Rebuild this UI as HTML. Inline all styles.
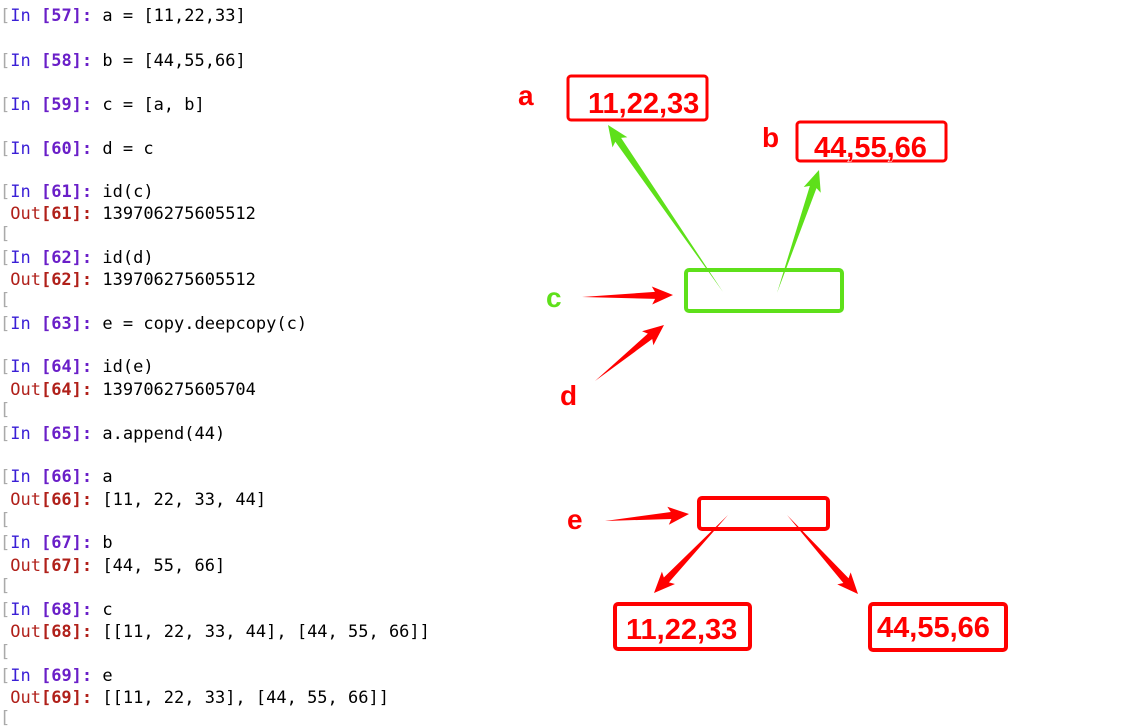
<!DOCTYPE html>
<html><head><meta charset="utf-8">
<style>
body{margin:0;width:1138px;height:724px;background:#fff;overflow:hidden;position:relative;font-family:"DejaVu Sans Mono","Liberation Mono",monospace;}
.l{position:absolute;left:0;font-size:17px;line-height:20px;white-space:pre;color:#000;}
.in{color:#3a1fd6}.inn{color:#6a1fc8;font-weight:bold}
.out{color:#b0201a}.outn{color:#b0201a;font-weight:bold}
.br{color:#aaa;font-weight:normal}
svg{position:absolute;left:0;top:0}
.big{font-family:"Liberation Sans",sans-serif;font-weight:bold;fill:#f00;stroke:#fff;stroke-width:1px;paint-order:stroke}
</style></head><body>
<div id="code"></div>
<svg width="1138" height="724">
<g id="g"></g>
</svg>
<script>
const lines=[
[15,'in','57','a = [11,22,33]'],
[60,'in','58','b = [44,55,66]'],
[104,'in','59','c = [a, b]'],
[148,'in','60','d = c'],
[191,'in','61','id(c)'],
[213,'out','61','139706275605512'],
[257,'in','62','id(d)'],
[279,'out','62','139706275605512'],
[323,'in','63','e = copy.deepcopy(c)'],
[366,'in','64','id(e)'],
[389,'out','64','139706275605704'],
[433,'in','65','a.append(44)'],
[476,'in','66','a'],
[499,'out','66','[11, 22, 33, 44]'],
[542,'in','67','b'],
[565,'out','67','[44, 55, 66]'],
[609,'in','68','c'],
[631,'out','68','[[11, 22, 33, 44], [44, 55, 66]]'],
[675,'in','69','e'],
[697,'out','69','[[11, 22, 33], [44, 55, 66]]']];
const code=document.getElementById('code');
lines.forEach(r=>{
 const d=document.createElement('div');d.className='l';d.style.top=(r[0]-9)+'px';
 
 
 if(r[1]=='in') d.innerHTML='<span class="br">[</span><span class="in">In </span><span class="inn">['+r[2]+']:</span> '+r[3];
 else d.innerHTML='<span class="out"> Out</span><span class="outn">['+r[2]+']:</span> '+r[3];
 code.appendChild(d);
 if(r[1]=='out'){const b=document.createElement('div');b.className='l br';b.style.top=(r[0]+11)+'px';b.textContent='[';
 
 
 code.appendChild(b);}
});
const NS='http://www.w3.org/2000/svg',g=document.getElementById('g');
function el(t,a,name){const e=document.createElementNS(NS,t);for(const k in a)e.setAttribute(k,a[k]);
 
 
 g.appendChild(e);return e;}
const boxes=[[568,76,139,44,'#f00',3,'box-a'],[797,122,149,39,'#f00',3,'box-b'],[686,270,156,41,'#5ee01a',4,'box-c'],[699,498,129,31,'#f00',4,'box-e'],[615,604,135,45,'#f00',4,'box-e0'],[870,604,136,46,'#f00',4,'box-e1']];
boxes.forEach(b=>el('rect',{x:b[0],y:b[1],width:b[2],height:b[3],rx:3,fill:'none',stroke:b[4],'stroke-width':b[5]},b[6]));
const arrows=[[723,292,608,125,'#5ee01a','arrow-c-to-a'],[777,293,819,170,'#5ee01a','arrow-c-to-b'],[582,297,673,295,'#f00','arrow-c'],[595,381,664,325,'#f00','arrow-d'],[605,521,689,514,'#f00','arrow-e'],[728,515,654,593,'#f00','arrow-e-to-e0'],[787,515,858,594,'#f00','arrow-e-to-e1']];
arrows.forEach(a=>{
 const [x1,y1,x2,y2,c,n]=a;const dx=x2-x1,dy=y2-y1,L=Math.hypot(dx,dy),ux=dx/L,uy=dy/L,px=-uy,py=ux;
 const h=18,w=9,bx=x2-ux*h,by=y2-uy*h,sw=3.5;
 const pts=[[x1,y1],[bx+px*sw,by+py*sw],[bx+px*w-ux*3,by+py*w-uy*3],[x2,y2],[bx-px*w-ux*3,by-py*w-uy*3],[bx-px*sw,by-py*sw]];
 el('polygon',{points:pts.map(p=>p.join(',')).join(' '),fill:c},n);
});
const texts=[[518,105,'a',28,'#f00','label-a'],[762,147,'b',28,'#f00','label-b'],[546,307,'c',28,'#5ee01a','label-c'],[560,405,'d',28,'#f00','label-d'],[567,529,'e',28,'#f00','label-e'],
[588,113,'11,22,33',29,'#f00','value-a'],[814,157,'44,55,66',29,'#f00','value-b'],[626,639,'11,22,33',29,'#f00','value-e0'],[877,637,'44,55,66',29,'#f00','value-e1']];
texts.forEach(t=>{const e=el('text',{x:t[0],y:t[1],'font-size':t[3],class:'big',fill:t[4]},t[5]);e.style.fill=t[4];e.textContent=t[2];});
</script>
</body></html>
